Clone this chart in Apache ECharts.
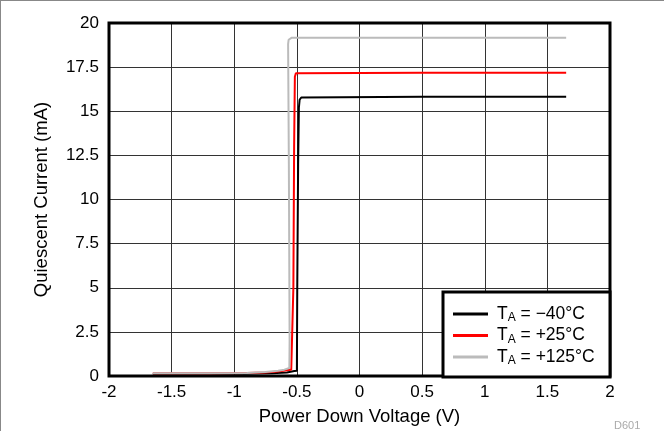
<!DOCTYPE html>
<html>
<head>
<meta charset="utf-8">
<script src="https://cdn.jsdelivr.net/npm/echarts@6/dist/echarts.min.js"></script>
<style>
html,body{margin:0;padding:0;background:#fff;}
#c{position:absolute;left:0;top:0;width:664px;height:431px;}
#frame{position:absolute;left:0;top:0;width:664px;height:431px;box-sizing:border-box;border-left:1px solid #888;border-top:1px solid #888;pointer-events:none;}
</style>
</head>
<body>
<div id="c"></div>
<div id="frame"></div>
<script>
// Tick values
const xTicks = [-2, -1.5, -1, -0.5, 0, 0.5, 1, 1.5, 2];
const yTicks = [0, 2.5, 5, 7.5, 10, 12.5, 15, 17.5, 20];

// Legend labels (temperature)
const seriesNames = ['\u221240', '+25', '+125'];
const seriesColors = ['#000000', '#ff0000', '#bbbbbb'];

// T_A = -40 C
const vM40 = [-1.65, -1.2, -0.9, -0.7, -0.58, -0.52, -0.500, -0.497, -0.490, -0.484, -0.478, -0.465, -0.45, 0.5, 1.65];
const iM40 = [0.12, 0.12, 0.13, 0.15, 0.2, 0.28, 0.3, 5.0, 12.0, 15.2, 15.65, 15.78, 15.82, 15.82, 15.82];

// T_A = +25 C
const vP25 = [-1.65, -1.2, -0.9, -0.75, -0.65, -0.58, -0.545, -0.532, -0.528, -0.522, -0.516, -0.508, -0.495, 0.5, 1.65];
const iP25 = [0.15, 0.15, 0.17, 0.2, 0.26, 0.32, 0.36, 0.4, 5.0, 13.0, 16.95, 17.15, 17.18, 17.18, 17.18];

// T_A = +125 C
const vP125 = [-1.65, -1.2, -0.9, -0.75, -0.65, -0.6, -0.56, -0.558, -0.564, -0.57, -0.566, -0.555, -0.54, 0.5, 1.65];
const iP125 = [0.15, 0.15, 0.17, 0.22, 0.3, 0.36, 0.45, 2.0, 12.0, 18.8, 19.05, 19.15, 19.17, 19.17, 19.17];

const xs = [vM40, vP25, vP125];
const ys = [iM40, iP25, iP125];

const font = '"Liberation Sans", Arial, Helvetica, sans-serif';

const chart = echarts.init(document.getElementById('c'), null, {renderer: 'canvas'});

const series = seriesNames.map((n, k) => ({
  name: n,
  type: 'line',
  data: xs[k].map((x, i) => [x, ys[k][i]]),
  showSymbol: false,
  symbol: 'none',
  smooth: false,
  lineStyle: {color: seriesColors[k], width: 2},
  itemStyle: {color: seriesColors[k]},
  z: 3 + k,
  animation: false
}));

chart.setOption({
  animation: false,
  backgroundColor: '#ffffff',
  grid: {left: 109, right: 54, top: 23, bottom: 54, show: true, borderColor: '#000', borderWidth: 3, backgroundColor: 'transparent', z: 3},
  xAxis: {
    type: 'value', min: xTicks[0], max: xTicks[xTicks.length - 1], interval: 0.5,
    name: 'Power Down Voltage (V)', nameLocation: 'middle', nameGap: 31,
    nameTextStyle: {color: '#000', fontSize: 18.5, fontFamily: font},
    axisLine: {show: false}, axisTick: {show: false},
    axisLabel: {color: '#000', fontSize: 17, fontFamily: font, margin: 8},
    splitLine: {show: true, lineStyle: {color: '#333', width: 1}}
  },
  yAxis: {
    type: 'value', min: yTicks[0], max: yTicks[yTicks.length - 1], interval: 2.5,
    name: 'Quiescent Current (mA)', nameLocation: 'middle', nameGap: 58,
    nameTextStyle: {color: '#000', fontSize: 18.5, fontFamily: font},
    axisLine: {show: false}, axisTick: {show: false},
    axisLabel: {color: '#000', fontSize: 17, fontFamily: font, margin: 10},
    splitLine: {show: true, lineStyle: {color: '#333', width: 1}}
  },
  legend: {
    show: true, orient: 'vertical', left: 453, top: 305, z: 20,
    padding: 0, itemGap: 2.5, itemWidth: 35, itemHeight: 3, icon: 'rect',
    data: seriesNames.map((n, k) => ({name: n, itemStyle: {color: seriesColors[k]}})),
    formatter: function (name) { return '{t|T}{s|A}{t| = ' + name + '\u00B0C}'; },
    textStyle: {
      color: '#000', fontFamily: font, fontSize: 17.5, padding: [0, 0, 0, 4],
      rich: {
        t: {fontSize: 17.5, fontFamily: font, color: '#000', lineHeight: 20},
        s: {fontSize: 12, fontFamily: font, color: '#000', lineHeight: 12, verticalAlign: 'bottom'}
      }
    }
  },
  graphic: [
    {type: 'rect', z: 10, shape: {x: 443, y: 292, width: 167, height: 85}, style: {fill: '#fff', stroke: '#000', lineWidth: 3}},
    {type: 'text', z: 10, left: 614, top: 420, style: {text: 'D601', fill: '#aaaaaa', font: '11px ' + font}}
  ],
  series: series
});
</script>
</body>
</html>
